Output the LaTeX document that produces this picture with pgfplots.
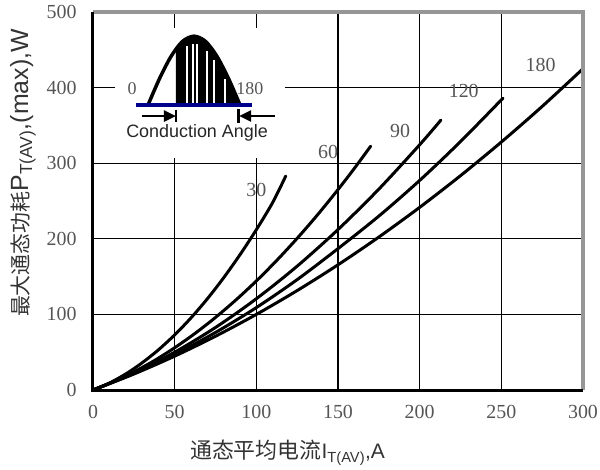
\documentclass[border=0pt]{standalone}
\usepackage{pgfplots}
\pgfplotsset{compat=1.18}
\usetikzlibrary{arrows.meta}
\usepackage{fontspec}
\setmainfont{Liberation Serif}
\newfontfamily\cjk{Noto Sans CJK SC}
\newfontfamily\arial{Liberation Sans}
\definecolor{tickgray}{RGB}{85,85,85}
\definecolor{navyblue}{RGB}{0,0,140}
\definecolor{framegray}{RGB}{150,150,150}
\begin{document}
\begin{tikzpicture}
\useasboundingbox (-93bp,-80bp) rectangle (507bp,390bp);
\begin{axis}[
  at={(0,0)}, anchor=south west,
  scale only axis, width=490bp, height=378bp,
  xmin=0, xmax=300, ymin=0, ymax=500,
  xtick={0,50,...,300}, ytick={0,100,...,500},
  grid=major, grid style={black, line width=1.1bp},
  major tick length=0pt,
  axis line style={draw=none},
  clip=false,
  /pgf/number format/assume math mode=true,
  ticklabel style={font=\fontsize{20}{22}\selectfont, text=tickgray},
  xticklabel style={yshift=-12bp},
  yticklabel style={xshift=-13bp},
  xlabel={{\cjk\fontsize{22}{24}\selectfont 通态平均电流}{\arial\fontsize{21}{24}\selectfont I\textsubscript{T(AV)},A}},
  ylabel={{\cjk\fontsize{21}{24}\selectfont 最大通态功耗}{\arial\fontsize{25}{27}\selectfont P\textsubscript{T(AV)},(max),W}},
  xlabel style={at={(axis description cs:0.397,-0.166)}, anchor=center, text=black!80},
  ylabel style={at={(axis description cs:-0.143,0.574)}, anchor=center, text=black!80},
  cycle list={{black, no markers}},
  every axis plot/.append style={line width=3bp, line cap=round, smooth},
]
% conduction angle 30
\addplot coordinates {(0,0)(10,9.2)(20,21.1)(30,35.8)(40,53)(50,72.9)(60,95.4)(70,120.6)(80,148.5)(90,179)(100,212)(110,248)(118,283)};
% 60
\addplot coordinates {(0,0)(12.5,10.9)(25,23.9)(37.5,38.8)(50,55.9)(62.5,74.9)(75,96)(87.5,119.1)(100,144.2)(112.5,171.4)(125,200.6)(137.5,231.8)(150,265.1)(160,293.1)(170,322.5)};
% 90
\addplot coordinates {(0,0)(25,22.4)(50,50)(75,82.7)(100,120.7)(125,163.8)(150,212.2)(175,265.7)(200,324.4)(213,357)};
% 120
\addplot coordinates {(0,0)(25,21.7)(50,47)(75,76.1)(100,109)(125,146)(150,187)(175,230)(200,277.2)(225,328.6)(251,386)};
% 180
\addplot coordinates {(0,0)(25,21.1)(50,44.8)(75,71.1)(100,100)(125,131.5)(150,165.6)(175,202.3)(200,241.6)(225,283.5)(250,328)(275,375.1)(300,425)};

% curve labels
\begin{scope}[every node/.style={font=\fontsize{20}{22}\selectfont, text=tickgray}]
\node at (axis cs:100,265) {30};
\node at (axis cs:144,315) {60};
\node at (axis cs:188,342) {90};
\node at (axis cs:227,395) {120};
\node at (axis cs:274,430) {180};
\end{scope}

% inset
\fill[white] (axis cs:13.5,307) rectangle (axis cs:117.6,479);
\fill[black] plot[smooth] coordinates {(50.8,451.3)(54.8,461.1)(61.85,468)(68.9,461.1)(75.9,441.3)(83,411.8)(90,377)} -- (50.8,377) -- cycle;
\begin{scope}[white, line width=1.4bp]
\draw (axis cs:57.5,377) -- (axis cs:57.5,455);
\draw (axis cs:61.2,377) -- (axis cs:61.2,458);
\draw (axis cs:63.6,377) -- (axis cs:63.6,458);
\draw (axis cs:69.7,377) -- (axis cs:69.7,449);
\draw (axis cs:74,377) -- (axis cs:74,437);
\draw (axis cs:80.8,377) -- (axis cs:80.8,412);
\end{scope}
\draw[black, line width=3.5bp, line cap=round] plot[smooth] coordinates {(33.7,377)(40.7,411.8)(47.8,441.3)(54.8,461.1)(61.85,468)(68.9,461.1)(75.9,441.3)(83,411.8)(90,377)};
\draw[navyblue, line width=4bp] (axis cs:26.3,377) -- (axis cs:97.3,377);
\draw[black, line width=2.5bp, -{Triangle[length=12bp,width=11bp]}] (axis cs:30,362.4) -- (axis cs:50.8,362.4);
\draw[black, line width=2.5bp] (axis cs:50.8,371) -- (axis cs:50.8,354);
\draw[black, line width=2.5bp, -{Triangle[length=12bp,width=11bp]}] (axis cs:111.4,362.4) -- (axis cs:89.5,362.4);
\draw[black, line width=2.5bp] (axis cs:89,372) -- (axis cs:89,353);
\node[font=\fontsize{18}{20}\selectfont, text=tickgray] at (axis cs:23.9,398) {0};
\node[font=\fontsize{18}{20}\selectfont, text=tickgray] at (axis cs:96,398) {180};
\node[font=\arial\fontsize{18}{20}\selectfont, text=black!85] at (axis cs:63.7,340) {Conduction Angle};

% frame
\draw[framegray, line width=4bp] (rel axis cs:0,1) -- (rel axis cs:1,1) -- (rel axis cs:1,0);
\draw[black, line width=3bp] (rel axis cs:0,1) -- (rel axis cs:0,0) -- (rel axis cs:1,0);
\end{axis}
\end{tikzpicture}
\end{document}
